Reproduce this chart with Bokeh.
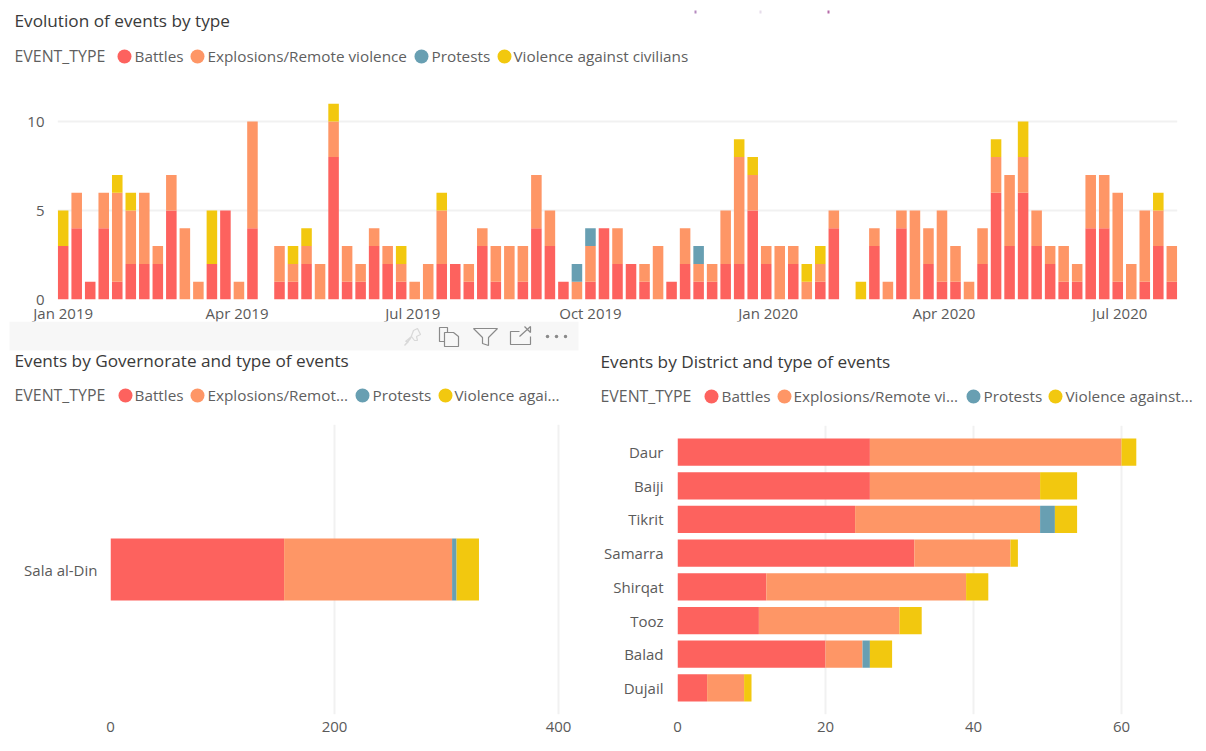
from bokeh.plotting import figure
from bokeh.layouts import column, row
from bokeh.core.properties import value
from bokeh.models import Range1d, FactorRange, FixedTicker, DatetimeTickFormatter
from bokeh.embed import file_html
from bokeh.resources import INLINE
import pandas as pd

# ---- data ----
event_types = ["Battles", "Explosions/Remote violence", "Protests", "Violence against civilians"]
colors = ["#FD625E", "#FE9666", "#689FB2", "#F2C80F"]

first_week = "2019-01-01"
battles = [3,4,1,4,1,2,2,2,5,0,0,2,5,0,4,0,1,1,2,0,8,1,1,3,2,1,0,0,2,2,1,3,1,0,1,4,3,1,0,1,4,2,2,1,0,1,2,1,1,2,2,5,2,0,2,0,1,4,0,0,3,0,4,0,2,1,1,0,2,6,3,6,3,2,1,1,4,4,1,0,1,3,1]
explosions = [0,2,0,2,5,3,4,1,2,4,1,0,0,1,6,0,2,1,1,2,2,2,1,1,1,1,1,2,3,0,1,1,2,3,2,3,2,0,1,2,0,2,0,1,3,0,2,1,1,3,6,2,1,3,1,1,1,1,0,0,1,1,1,5,2,4,2,1,2,2,4,2,2,1,2,1,3,3,5,2,4,2,2]
protests = [0]*38 + [1,1] + [0]*7 + [1] + [0]*35
violence = [2,0,0,0,1,1,0,0,0,0,0,3,0,0,0,0,0,1,1,0,1,0,0,0,0,1,0,0,1,0,0,0,0,0,0,0,0,0,0,0,0,0,0,0,0,0,0,0,0,0,1,1,0,0,0,1,1,0,0,1,0,0,0,0,0,0,0,0,0,1,0,2,0,0,0,0,0,0,0,0,0,1,0]
month_ticks = ["2019-01-01","2019-04-01","2019-07-01","2019-10-01","2020-01-01","2020-04-01","2020-07-01"]
count_ticks = [0, 5, 10]

governorates = ["Sala al-Din"]
gov_battles = [155]
gov_explosions = [150]
gov_protests = [4]
gov_violence = [20]

districts = ["Daur","Baiji","Tikrit","Samarra","Shirqat","Tooz","Balad","Dujail"]
dis_battles = [26,26,24,32,12,11,20,4]
dis_explosions = [34,23,25,13,27,19,5,5]
dis_protests = [0,0,2,0,0,0,1,0]
dis_violence = [2,5,3,1,3,3,3,1]

FONT = "Open Sans"
TXT = "#5f5f5f"
TITLE = "#3a3a3a"
GRID = "#f1f1f1"
TICK_SIZE = "15px"
LEGEND_SIZE = "15.3px"
NAME_SIZE = "15.9px"
TITLE_SIZE = "17.2px"

def style(p):
    p.outline_line_color = None
    p.frame_align = False
    for ax in p.axis:
        ax.axis_line_color = None
        ax.major_tick_line_color = None
        ax.minor_tick_line_color = None
        ax.major_tick_out = 0
        ax.major_tick_in = 0
        ax.major_label_text_font = FONT
        ax.major_label_text_font_size = TICK_SIZE
        ax.major_label_text_color = "#5a5a5a"

def header(x0, y0, w, h):
    """A strip above a chart for its title and legend; its ranges are page pixels."""
    p = figure(width=w, height=h, toolbar_location=None, output_backend="svg",
               x_range=Range1d(x0, x0+w), y_range=Range1d(y0+h, y0),
               x_axis_location=None, y_axis_location=None,
               min_border=0, min_border_left=0, min_border_right=0, min_border_top=0, min_border_bottom=0)
    p.grid.visible = False
    p.outline_line_color = None
    p.frame_align = False
    return p

def put_text(p, x, y, s, size=LEGEND_SIZE, color=TXT):
    p.text(x=[x], y=[y-1], text=[s], text_font=value(FONT), text_font_size=value(size), text_color=color,
           text_baseline="middle", text_align="left")

def put_legend(p, x_name, entries, y):
    put_text(p, x_name, y, "EVENT_TYPE", size=NAME_SIZE)
    for (cx, tx, s), c in zip(entries, colors):
        p.scatter(x=[cx], y=[y], size=14, marker="circle", fill_color=c, line_color=None)
        put_text(p, tx, y, s)

def stack_source(key, cats, a, b, c, d):
    src = {key: cats}
    for name, vals in zip(event_types, (a, b, c, d)):
        src[name] = vals
    return src

# ---- top: weekly evolution ----
dates = pd.date_range(first_week, periods=len(battles), freq="7D")
week_ms = 7*24*3600*1000
t0 = pd.Timestamp(first_week)
def week_to_ts(w):
    return (t0 + pd.Timedelta(days=7*w)).value/1e6

h0 = header(0, 0, 1200, 80)
put_text(h0, 14, 21, "Evolution of events by type", size=TITLE_SIZE, color=TITLE)
put_legend(h0, 14, [(124,134,"Battles"),(197,207,"Explosions/Remote violence"),(421,431,"Protests"),(504,513,"Violence against civilians")], 56)
h0.quad(left=[694,759,827], right=[696,761,829], top=[10,10,10], bottom=[13,13,13],
        color=["#b58abf","#e6dcea","#b56aa8"], line_color=None)

top = figure(frame_width=1120, frame_height=219, x_axis_type="datetime", toolbar_location=None, output_backend="svg",
             x_range=Range1d(week_to_ts(-0.42), week_to_ts(82.42)), y_range=Range1d(0, 219/17.8),
             min_border_left=57, min_border_right=23, min_border_top=0, min_border_bottom=23)
top.vbar_stack(event_types, x="x", width=0.78*week_ms, color=colors, line_color=None,
               source=stack_source("x", dates, battles, explosions, protests, violence))
style(top)
top.margin = (0, 0, -4, 0)
top.xaxis.ticker = FixedTicker(ticks=[pd.Timestamp(m).value/1e6 for m in month_ticks])
top.xaxis.formatter = DatetimeTickFormatter(months="%b %Y", days="%b %Y", hours="%b %Y", years="%b %Y", context=None)
top.xaxis.major_label_standoff = 3
top.yaxis.ticker = FixedTicker(ticks=count_ticks)
top.yaxis.major_label_standoff = 13
top.xgrid.visible = False
top.ygrid.grid_line_color = GRID
top.ygrid.grid_line_width = 2

# ---- bottom left: governorate ----
h1 = header(0, 322, 590, 103)
h1.quad(left=[9], right=[578], top=[322], bottom=[351], color="#f7f7f7", line_color=None)
# visual-header icons
h1.patch([404,410,413,417,420,416,417,414,411,405,408], [346,339,331,329,335,337,341,341,337,342,342],
         fill_alpha=0, line_color="#d8d8d8", line_width=1.2)
h1.patch([439,447,447,439], [328,328,342,342], fill_alpha=0, line_color="#8a8a8a", line_width=1.2)
h1.patch([444,453,458,458,444], [333,333,337,347,347], fill_color="#f7f7f7", line_color="#8a8a8a", line_width=1.2)
h1.patch([473,497,488,488,482,482], [329,329,338,346,344,338], fill_alpha=0, line_color="#8a8a8a", line_width=1.2)
h1.line([519,510,510,530,530], [332,332,345,345,337], line_color="#8a8a8a", line_width=1.2)
h1.line([519,530,530,524], [337,327,333,327], line_color="#8a8a8a", line_width=1.2)
h1.scatter(x=[547,556,565], y=[337,337,337], size=3.5, marker="circle", fill_color="#8a8a8a", line_color=None)
put_text(h1, 14, 362, "Events by Governorate and type of events", size=TITLE_SIZE, color=TITLE)
put_legend(h1, 14, [(125,134,"Battles"),(197,207,"Explosions/Remot..."),(362,372,"Protests"),(445,454,"Violence agai...")], 396)

left = figure(frame_width=470, frame_height=290, toolbar_location=None, output_backend="svg",
              x_range=Range1d(0, 470/1.12), y_range=FactorRange(factors=governorates),
              min_border_left=110, min_border_right=10, min_border_top=0, min_border_bottom=28)
left.hbar_stack(event_types, y="y", height=0.214, color=colors, line_color=None,
                source=stack_source("y", governorates, gov_battles, gov_explosions, gov_protests, gov_violence))
style(left)
left.xaxis.ticker = FixedTicker(ticks=[0,200,400])
left.xaxis.major_label_standoff = 7
left.yaxis.major_label_standoff = 13
left.ygrid.visible = False
left.xgrid.grid_line_color = GRID
left.xgrid.grid_line_width = 2

# ---- bottom right: district ----
h2 = header(590, 322, 610, 104)
put_text(h2, 600, 363, "Events by District and type of events", size=TITLE_SIZE, color=TITLE)
put_legend(h2, 600, [(711,721,"Battles"),(784,793,"Explosions/Remote vi..."),(973,983,"Protests"),(1055,1065,"Violence against...")], 397)

right = figure(frame_width=518, frame_height=289, toolbar_location=None, output_backend="svg",
               x_range=Range1d(0, 70), y_range=FactorRange(factors=districts[::-1], factor_padding=0,
                                                           range_padding=0.29, range_padding_units="absolute"),
               min_border_left=87, min_border_right=5, min_border_top=0, min_border_bottom=28)
right.hbar_stack(event_types, y="y", height=0.81, color=colors, line_color=None,
                 source=stack_source("y", districts, dis_battles, dis_explosions, dis_protests, dis_violence))
style(right)
right.xaxis.ticker = FixedTicker(ticks=[0,20,40,60])
right.xaxis.major_label_standoff = 7
right.yaxis.major_label_standoff = 14
right.ygrid.visible = False
right.xgrid.grid_line_color = GRID
right.xgrid.grid_line_width = 2

page = column(h0, top, row(column(h1, left, spacing=0), column(h2, right, spacing=0), spacing=0), spacing=0)
open("out.html", "w").write(file_html(page, INLINE))
